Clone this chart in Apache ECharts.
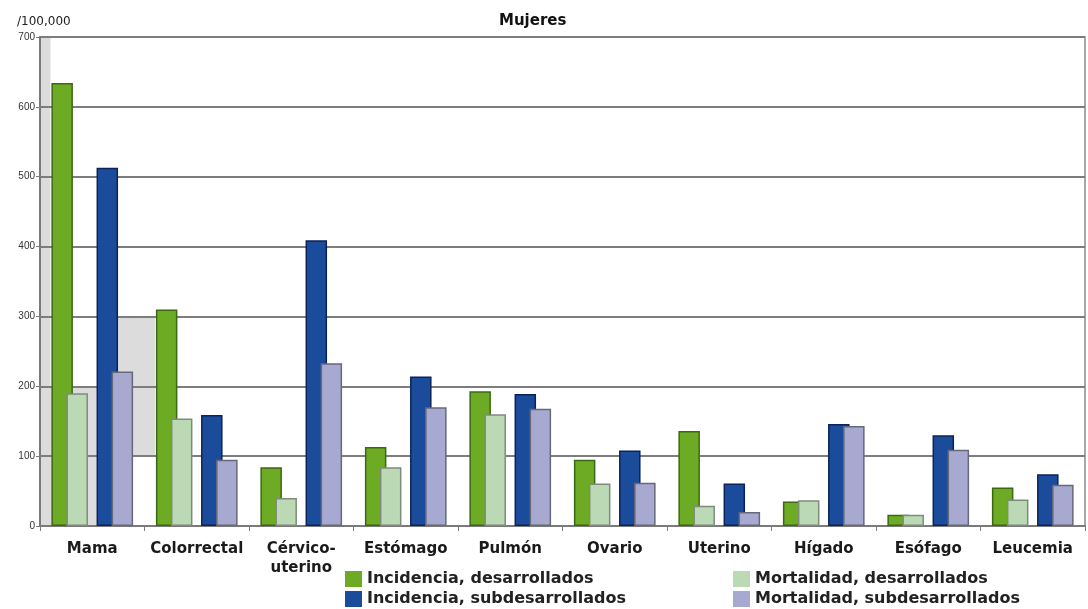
<!DOCTYPE html>
<html>
<head>
<meta charset="utf-8">
<title>Mujeres</title>
<script src="https://cdn.jsdelivr.net/npm/echarts@6/dist/echarts.min.js"></script>
<style>
  html, body { margin: 0; padding: 0; background: #ffffff; }
  #chart { width: 1088px; height: 609px; }
</style>
</head>
<body>
<div id="chart"></div>
<script>
// Cancer sites (x categories)
const categories = ['Mama', 'Colorrectal', 'Cérvico-\nuterino', 'Estómago', 'Pulmón',
                    'Ovario', 'Uterino', 'Hígado', 'Esófago', 'Leucemia'];

// Rates per 100,000 women
const incidenciaDesarrollados    = [634, 310, 84, 113, 193, 95, 136, 35, 16, 55];
const mortalidadDesarrollados    = [190, 154, 40, 84, 160, 61, 29, 37, 16, 38];
const incidenciaSubdesarrollados = [513, 159, 409, 214, 189, 108, 61, 146, 130, 74];
const mortalidadSubdesarrollados = [221, 95, 233, 170, 168, 62, 20, 143, 109, 59];

// Y axis ticks
const yTicks = [0, 100, 200, 300, 400, 500, 600, 700];

// Light grey background patches behind the first groups
// ([x0, y0, x1, y1] in category-band units / rate units)
const shadePatches = [
  [0, 0, 0.1, 700],
  [0, 0, 0.55, 200],
  [0.55, 100, 1.1, 300]
];

const names = ['Incidencia, desarrollados', 'Mortalidad, desarrollados',
               'Incidencia, subdesarrollados', 'Mortalidad, subdesarrollados'];

const FONT = 'DejaVu Sans';

function barSeries(name, data, fill, border) {
  return {
    name: name,
    type: 'bar',
    data: data,
    barWidth: 21.5,
    barGap: '-30%',
    z: 2,
    itemStyle: { color: fill, borderColor: border, borderWidth: 1.5 },
    emphasis: { disabled: true }
  };
}

// one legend entry per box, laid out as a 2 x 2 block
function legendItem(name, left, top) {
  return {
    data: [name],
    left: left, top: top,
    itemWidth: 17, itemHeight: 16, icon: 'rect',
    itemStyle: { borderWidth: 0 },
    textStyle: { fontFamily: FONT, fontWeight: 'bold', fontSize: 16, color: '#222' },
    selectedMode: false
  };
}

const chart = echarts.init(document.getElementById('chart'), null, { renderer: 'canvas' });

chart.setOption({
  animation: false,
  backgroundColor: '#ffffff',
  title: [
    {
      text: 'Mujeres', left: 494, top: 9,
      textStyle: { fontFamily: FONT, fontWeight: 'bold', fontSize: 15, color: '#111' }
    },
    {
      text: '/100,000', left: 12, top: 11,
      textStyle: { fontFamily: FONT, fontWeight: 'normal', fontSize: 12, color: '#222' }
    }
  ],
  legend: [
    legendItem(names[0], 340, 566),
    legendItem(names[2], 340, 586),
    legendItem(names[1], 728, 566),
    legendItem(names[3], 728, 586)
  ],
  grid: {
    left: 40, right: 3, top: 37, bottom: 83,
    show: true, borderColor: '#8a8a8a', borderWidth: 1.5,
    containLabel: false
  },
  xAxis: [
    {
      type: 'category',
      data: categories,
      axisLine: { lineStyle: { color: '#7a7a7a', width: 2 } },
      axisTick: { show: true, alignWithLabel: false, length: 5, lineStyle: { color: '#7a7a7a' } },
      axisLabel: {
        interval: 0, margin: 14, lineHeight: 19,
        fontFamily: FONT, fontWeight: 'bold', fontSize: 15, color: '#1a1a1a'
      }
    },
    { type: 'value', min: 0, max: 10, show: false }
  ],
  yAxis: {
    type: 'value',
    min: yTicks[0], max: yTicks[yTicks.length - 1], interval: 100,
    axisLine: { show: true, lineStyle: { color: '#7a7a7a', width: 2 } },
    axisTick: { show: true, length: 4, lineStyle: { color: '#7a7a7a' } },
    axisLabel: { margin: 5, fontFamily: 'Liberation Sans', fontSize: 10, color: '#333' },
    splitLine: { show: true, lineStyle: { color: '#7d7d7d', width: 2 } }
  },
  series: [
    barSeries(names[0], incidenciaDesarrollados, '#6cab23', '#3c6812'),
    barSeries(names[1], mortalidadDesarrollados, '#bad9b4', '#7f8c7c'),
    // empty slot separating the two pairs of each group
    { name: '', type: 'bar', data: categories.map(() => null), barWidth: 21.5, barGap: '-30%' },
    barSeries(names[2], incidenciaSubdesarrollados, '#1b4c9c', '#0b2357'),
    barSeries(names[3], mortalidadSubdesarrollados, '#a8a9d0', '#676878'),
    {
      name: 'shade', type: 'line', xAxisIndex: 1, data: [], z: -1, silent: true,
      markArea: {
        silent: true, z: -1,
        itemStyle: { color: '#dcdcdc' },
        data: shadePatches.map(p => [{ coord: [p[0], p[1]] }, { coord: [p[2], p[3]] }])
      }
    }
  ]
});
</script>
</body>
</html>
